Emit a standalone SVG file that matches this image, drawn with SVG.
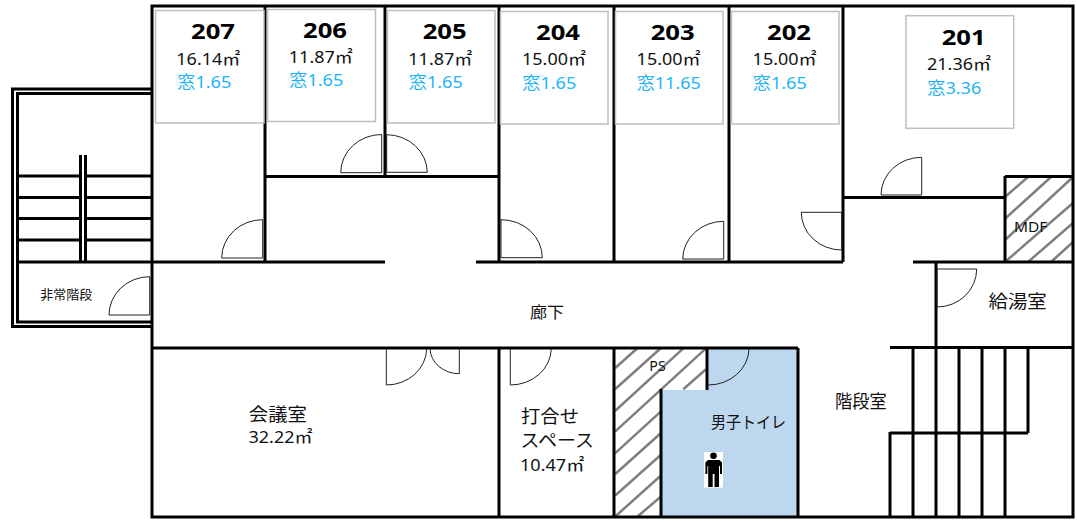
<svg xmlns="http://www.w3.org/2000/svg" width="1077" height="522" viewBox="0 0 1077 522">
<style>
text{font-family:"Noto Sans","Noto Sans CJK JP",sans-serif;fill:#111}
.no{font-weight:700;font-size:21px;fill:#000}
.a{font-size:16.500px}
.w{font-size:17px;fill:#1cb4f6}
.l{font-size:18px}
.s{font-size:14px}
.wall{fill:none;stroke:#000;stroke-width:3}
.box{fill:#fff;stroke:#bfbfbf;stroke-width:1.5}
.door{fill:none;stroke:#222;stroke-width:1}
.hatch{fill:none;stroke:#7f7f7f;stroke-width:2.500}
</style>
<rect width="1077" height="522" fill="#fff"/>
<path id="toilet-floor" d="M661 390H707V348H798V517H661Z" fill="#bdd7ee"/>
<g id="hatching" class="hatch">
<path d="M1005 197L1028 177M1005 218.700L1051 177M1005 240L1073 177M1005 262L1073 203M1028 262L1073 223M1051 262L1073 242"/>
<path d="M615 368.300L637.300 348.300M615 389.300L660.700 348.300M615 411L683.300 348.300M615 431.700L706 348.300M615 453.300L660.700 411.700M615 474.300L660.700 433.300M615 495.700L660.700 455M615 516.700L660.700 475.700M637.300 516.700L660.700 496.700M683.300 389.300L706 369.300"/>
</g>
<g id="walls" class="wall">
<path d="M152 6H1073V517H152Z"/>
<path d="M265 6V262M385 6V176M499 6V262M614 6V262M729 6V262M843 6V262M499 348V517M614 348V517"/>
<path d="M17 262H385M476 262H843M913 262H1073M265 176.500H499M843 197.500H1005M1005 176.500H1073M1005 176V262"/>
<path d="M152 348H798M798 348V517M661 389V517M707 348V390"/>
<path d="M890 347.500H1073M936 262V517M913 347V517M959 347V517M982 347V517M1005 347V517M1028 347V433M890 433H1028M890 432V517"/>
</g>
<g id="emergency-stairs" class="wall">
<path d="M152 89H12.500V326.500H152"/>
<path d="M152 93.500H17.500V322H152"/>
<path d="M17 176H80M85 176H152M17 197.500H80M85 197.500H152M17 218.500H80M85 218.500H152M17 240H80M85 240H152"/>
<path d="M80.500 155V262M85.500 155V262"/>
</g>
<g id="room-207"><rect class="box" x="155.500" y="10.500" width="108.500" height="112.500"/><path class="door" d="M262.700 219.700A41 38.300 0 0 0 221.700 258H262.700Z"/><text class="no" x="191" y="39" textLength="44" lengthAdjust="spacingAndGlyphs">207</text><text class="a" x="176.300" y="65" textLength="64" lengthAdjust="spacingAndGlyphs">16.14㎡</text><text class="w" x="177.300" y="88" textLength="54" lengthAdjust="spacingAndGlyphs">窓1.65</text></g>
<g id="room-206"><rect class="box" x="267.500" y="9.500" width="108" height="112"/><path class="door" d="M381.700 134.500A41 38.200 0 0 0 340.700 172.700H381.700Z"/><text class="no" x="303" y="37.500" textLength="44" lengthAdjust="spacingAndGlyphs">206</text><text class="a" x="288.800" y="63" textLength="64" lengthAdjust="spacingAndGlyphs">11.87㎡</text><text class="w" x="289.300" y="86" textLength="54" lengthAdjust="spacingAndGlyphs">窓1.65</text></g>
<g id="room-205"><rect class="box" x="387.500" y="10.500" width="107.500" height="112.500"/><path class="door" d="M386.700 134.700A41 38 0 0 1 427.300 172.300H386.700Z"/><text class="no" x="422.700" y="39" textLength="44" lengthAdjust="spacingAndGlyphs">205</text><text class="a" x="408.300" y="65" textLength="64" lengthAdjust="spacingAndGlyphs">11.87㎡</text><text class="w" x="408.800" y="88" textLength="54" lengthAdjust="spacingAndGlyphs">窓1.65</text></g>
<g id="room-204"><rect class="box" x="500.500" y="11.500" width="107.500" height="112.500"/><path class="door" d="M501 219.700A41 38 0 0 1 542.300 257.700H501Z"/><text class="no" x="536" y="40" textLength="44" lengthAdjust="spacingAndGlyphs">204</text><text class="a" x="522" y="65" textLength="64" lengthAdjust="spacingAndGlyphs">15.00㎡</text><text class="w" x="522.300" y="89" textLength="54" lengthAdjust="spacingAndGlyphs">窓1.65</text></g>
<g id="room-203"><rect class="box" x="615.500" y="11.500" width="107.500" height="112.500"/><path class="door" d="M723.700 221.300A41 38 0 0 0 682.700 259H723.700Z"/><text class="no" x="650.700" y="40" textLength="44" lengthAdjust="spacingAndGlyphs">203</text><text class="a" x="636.600" y="65" textLength="64" lengthAdjust="spacingAndGlyphs">15.00㎡</text><text class="w" x="636.800" y="89" textLength="64" lengthAdjust="spacingAndGlyphs">窓11.65</text></g>
<g id="room-202"><rect class="box" x="731.500" y="11.500" width="107.500" height="112.500"/><path class="door" d="M801.300 212.300A40.400 37.700 0 0 0 841.700 250V212.300Z"/><text class="no" x="767" y="40" textLength="44" lengthAdjust="spacingAndGlyphs">202</text><text class="a" x="752.600" y="65" textLength="64" lengthAdjust="spacingAndGlyphs">15.00㎡</text><text class="w" x="752.800" y="89" textLength="54" lengthAdjust="spacingAndGlyphs">窓1.65</text></g>
<g id="room-201"><rect class="box" x="906" y="15.700" width="107.700" height="112.600"/><path class="door" d="M921.700 157.300A40.700 37.700 0 0 0 881 195H921.700Z"/><text class="no" x="941.700" y="44.500" textLength="44" lengthAdjust="spacingAndGlyphs">201</text><text class="a" x="927" y="70" textLength="64" lengthAdjust="spacingAndGlyphs">21.36㎡</text><text class="w" x="927.300" y="93.500" textLength="54" lengthAdjust="spacingAndGlyphs">窓3.36</text></g>
<g id="mdf"><text class="s" x="1014" y="231.700" textLength="33.400" lengthAdjust="spacingAndGlyphs">MDF</text></g>
<g id="kyuto"><path class="door" d="M937 269H976.700A39.700 38 0 0 1 937 307Z"/><text class="l" x="988.500" y="308" textLength="58.300" lengthAdjust="spacingAndGlyphs">給湯室</text></g>
<g id="hijo"><path class="door" d="M149.700 276.700A40.700 38.300 0 0 0 109 315H149.700Z"/><text class="s" x="40.200" y="298.700" textLength="52" lengthAdjust="spacingAndGlyphs" style="font-size:13px">非常階段</text></g>
<g id="corridor"><text class="l" x="530" y="318" textLength="34" lengthAdjust="spacingAndGlyphs" style="font-size:16px">廊下</text></g>
<g id="kaigi"><path class="door" d="M386.300 349V385A40.400 37 0 0 0 426.700 349"/><path class="door" d="M459.300 349V373.700A29.300 25.700 0 0 1 430 349"/><text class="l" x="248.800" y="420.700" textLength="58" lengthAdjust="spacingAndGlyphs">会議室</text><text class="a" x="248.500" y="442.700" textLength="64" lengthAdjust="spacingAndGlyphs">32.22㎡</text></g>
<g id="uchiawase"><path class="door" d="M510.300 349V385A41 37 0 0 0 551.300 349"/><text class="l" x="521" y="423" textLength="58" lengthAdjust="spacingAndGlyphs">打合せ</text><text class="l" x="520.500" y="446.700" textLength="73.500" lengthAdjust="spacingAndGlyphs">スペース</text><text class="a" x="520" y="471.300" textLength="64.300" lengthAdjust="spacingAndGlyphs">10.47㎡</text></g>
<g id="ps"><text class="s" x="649.300" y="371" textLength="16.400" lengthAdjust="spacingAndGlyphs">PS</text></g>
<g id="toilet"><path class="door" d="M708.300 385A40.700 37 0 0 0 749 349"/><text class="l" x="711" y="428" textLength="75" lengthAdjust="spacingAndGlyphs" style="font-size:16px">男子トイレ</text><rect x="704" y="452" width="19" height="35.700" fill="#fff"/><circle cx="713.500" cy="455.700" r="3.300" fill="#000"/><path fill="#000" d="M708 460H719.500L722 462.500V474H720V466H719V487H714.500V474H712.700V487H708.200V466H707.400V474H705.400V462.500Z"/></g>
<g id="stairwell"><text class="l" x="835" y="408" textLength="51.700" lengthAdjust="spacingAndGlyphs">階段室</text></g>
</svg>
